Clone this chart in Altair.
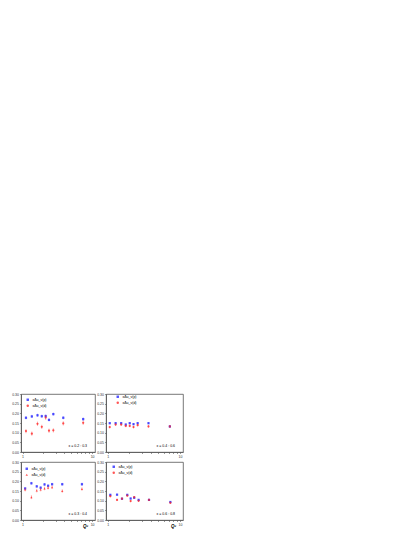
import altair as alt
import pandas as pd

# ---- data ----
label_p = "xΔu_v(p)"
label_d = "xΔu_v(d)"

q2_tl = [1.12, 1.36, 1.64, 1.89, 2.15, 2.40, 2.77, 3.85, 7.44]
p_tl = [0.177, 0.184, 0.190, 0.185, 0.186, 0.166, 0.196, 0.177, 0.170]
d_tl = [0.108, 0.095, 0.146, 0.130, 0.178, 0.110, 0.112, 0.148, 0.151]
ep_tl = [0.008, 0.008, 0.008, 0.008, 0.008, 0.008, 0.008, 0.008, 0.009]
ed_tl = [0.011, 0.011, 0.011, 0.011, 0.012, 0.011, 0.011, 0.011, 0.011]

q2_tr = [1.07, 1.29, 1.54, 1.78, 2.02, 2.28, 2.60, 3.67, 7.24]
p_tr = [0.149, 0.149, 0.149, 0.142, 0.149, 0.144, 0.149, 0.149, 0.132]
d_tr = [0.129, 0.142, 0.142, 0.135, 0.135, 0.129, 0.139, 0.132, 0.132]
ep_tr = [0.005, 0.005, 0.005, 0.005, 0.005, 0.005, 0.005, 0.005, 0.006]
ed_tr = [0.007, 0.007, 0.007, 0.007, 0.007, 0.007, 0.007, 0.007, 0.007]

q2_bl = [1.09, 1.34, 1.60, 1.82, 2.07, 2.33, 2.66, 3.72, 7.14]
p_bl = [0.163, 0.190, 0.174, 0.167, 0.184, 0.177, 0.185, 0.185, 0.185]
d_bl = [0.157, 0.118, 0.152, 0.157, 0.163, 0.167, 0.169, 0.150, 0.160]
ep_bl = [0.007, 0.007, 0.007, 0.007, 0.007, 0.007, 0.007, 0.007, 0.008]
ed_bl = [0.009, 0.010, 0.009, 0.009, 0.009, 0.009, 0.009, 0.009, 0.009]

q2_br = [1.09, 1.35, 1.58, 1.87, 2.08, 2.33, 2.68, 3.73, 7.36]
p_br = [0.130, 0.131, 0.110, 0.130, 0.111, 0.115, 0.104, 0.104, 0.093]
d_br = [0.123, 0.104, 0.110, 0.126, 0.098, 0.118, 0.099, 0.104, 0.089]
ep_br = [0.005, 0.005, 0.005, 0.005, 0.005, 0.005, 0.005, 0.005, 0.005]
ed_br = [0.006, 0.006, 0.006, 0.006, 0.006, 0.006, 0.006, 0.006, 0.006]

y_ticks = [0.0, 0.05, 0.10, 0.15, 0.20, 0.25, 0.30]
x_ticks = [1, 2, 3, 4, 5, 6, 7, 8, 9, 10]

FONT = "Liberation Sans"
BLUE = "#2a2aff"
RED = "#ff2a2a"


def panel(q2, p, d, ep, ed, red_shape, note, width, bottom, leg_x, leg_y):
    rows = []
    for q, v, e in zip(q2, p, ep):
        rows.append({"q2": q, "val": v, "lo": v - e, "hi": v + e, "series": label_p})
    for q, v, e in zip(q2, d, ed):
        rows.append({"q2": q, "val": v, "lo": v - e, "hi": v + e, "series": label_d})
    df = pd.DataFrame(rows)

    x_axis = alt.Axis(
        values=x_ticks,
        labelExpr="datum.value == 1 || datum.value == 10 ? datum.label : ''",
        title="Q²" if bottom else None,
        titleX=width - 10, titleY=3, titleAlign="center", titleBaseline="top",
        titleFontSize=4.5, titleFont=FONT,
        titleFontWeight="bold", titleFontStyle="italic",
        grid=False, tickSize=1.5, labelFontSize=3.5, labelPadding=1,
        labelOverlap=False, format="d",
    )
    y_axis = alt.Axis(values=y_ticks, format=".2f", title=None, grid=False,
                      tickSize=1.5, labelFontSize=3.5, labelPadding=1,
                      labelOverlap=False)
    xs = alt.Scale(type="log", domain=[0.95, 11], nice=False)
    ys = alt.Scale(domain=[0, 0.30], nice=False)
    cscale = alt.Scale(domain=[label_p, label_d], range=[BLUE, RED])
    sscale = alt.Scale(domain=[label_p, label_d], range=["square", red_shape])
    leg = alt.Legend(title=None, orient="none", legendX=leg_x, legendY=leg_y, padding=0,
                     labelFontSize=3.5, labelFont=FONT, symbolSize=6,
                     rowPadding=1, labelOffset=3, symbolStrokeWidth=0)

    pts = alt.Chart(df).mark_point(filled=True, size=5, opacity=0.8).encode(
        x=alt.X("q2:Q", scale=xs, axis=x_axis),
        y=alt.Y("val:Q", scale=ys, axis=y_axis),
        color=alt.Color("series:N", scale=cscale, legend=leg),
        shape=alt.Shape("series:N", scale=sscale, legend=leg),
    )
    bars = alt.Chart(df).mark_rule(strokeWidth=0.7, opacity=0.55).encode(
        x=alt.X("q2:Q", scale=xs, axis=x_axis),
        y=alt.Y("lo:Q", scale=ys, axis=y_axis), y2="hi:Q",
        color=alt.Color("series:N", scale=cscale, legend=leg),
    )
    txt = alt.Chart(pd.DataFrame({"t": [note]})).mark_text(
        fontSize=3.5, font=FONT, align="right", baseline="bottom"
    ).encode(x=alt.value(width - 8), y=alt.value(54), text="t:N")
    return alt.layer(pts, bars, txt).properties(width=width, height=58)


tl = panel(q2_tl, p_tl, d_tl, ep_tl, ed_tl, "circle", "x = 0.2 : 0.3", 74, False, 5, 4)
tr = panel(q2_tr, p_tr, d_tr, ep_tr, ed_tr, "circle", "x = 0.4 : 0.6", 77, False, 10, 1)
bl = panel(q2_bl, p_bl, d_bl, ep_bl, ed_bl, "triangle-up", "x = 0.3 : 0.4", 74, True, 4, 5)
br = panel(q2_br, p_br, d_br, ep_br, ed_br, "circle", "x = 0.6 : 0.8", 77, True, 6, 3)

top = alt.hconcat(tl, tr, spacing=0).resolve_scale(color="independent", shape="independent")
bot = alt.hconcat(bl, br, spacing=0).resolve_scale(color="independent", shape="independent")

chart = alt.vconcat(top, bot, spacing=0).resolve_scale(
    color="independent", shape="independent"
).properties(
    padding={"left": 3, "top": 383, "right": 5, "bottom": 5}
).configure_view(stroke="#555555", strokeWidth=0.8).configure_axis(
    labelFont=FONT, labelColor="#333333", domainColor="#555555", tickColor="#555555",
    domainWidth=0.8, tickWidth=0.6
)

chart.save("out.html", embed_options={"renderer": "svg", "actions": False})
